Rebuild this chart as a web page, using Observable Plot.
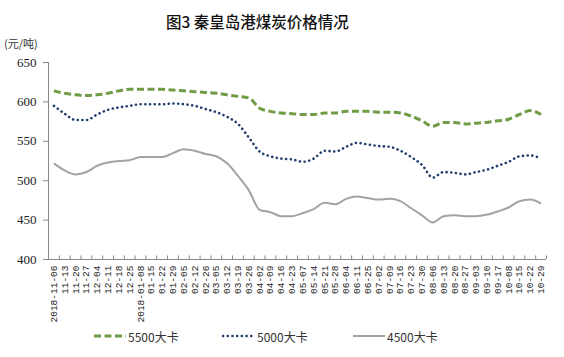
<!DOCTYPE html>
<html><head><meta charset="utf-8">
<script src="https://cdn.jsdelivr.net/npm/d3@7"></script>
<script src="https://cdn.jsdelivr.net/npm/@observablehq/plot@0.6"></script>
<style>
body{margin:0;background:#fff;}
#wrap{position:relative;width:564px;height:357px;font-family:"Noto Sans CJK SC",sans-serif;}
#title{position:absolute;left:166px;top:10px;font-size:15.5px;color:#111;white-space:nowrap;font-weight:500;}
#unit{position:absolute;left:4px;top:35px;font-size:11px;color:#333;}
#legend{position:absolute;top:326px;left:0;width:564px;height:20px;font-size:12px;color:#333;}
.lg{position:absolute;display:flex;align-items:center;white-space:nowrap;}
#chart{position:absolute;left:0;top:0;}
</style></head>
<body><div id="wrap"><div id="chart"></div><div id="title">图3 秦皇岛港煤炭价格情况</div><div id="unit">(元/吨)</div><div id="legend"></div></div>
<script>
const dates = ["2018-11-06","11-13","11-20","11-27","12-04","12-11","12-18","12-25","2018-01-08","01-15","01-22","01-29","02-05","02-12","02-26","03-05","03-12","03-19","03-26","04-02","04-09","04-16","04-23","05-07","05-14","05-21","05-28","06-04","06-11","06-25","07-02","07-09","07-16","07-23","07-30","08-06","08-13","08-20","08-27","09-03","09-10","09-17","10-08","10-15","10-22","10-29"];
const k5500 = [614,611,609,608,609,611,614,616,616,616,616,615,614,613,612,611,609,607,605,592,588,586,585,584,584,586,586,588,588,588,587,587,586,582,576,569,574,574,572,573,574,576,578,584,589,584];
const k5000 = [595,585,577,577,584,590,593,595,597,597,597,598,597,595,591,587,581,572,555,537,531,528,527,524,528,538,537,543,548,546,544,543,538,530,520,504,511,510,508,511,514,519,524,531,532,528];
const k4500 = [522,513,508,511,519,523,525,526,530,530,530,535,540,538,534,531,522,506,488,463,460,455,455,459,464,472,470,477,480,478,476,477,474,465,456,447,455,456,455,455,457,461,466,474,476,471];
const seriesNames = ["5500大卡","5000大卡","4500大卡"];
const yTicks = [400,450,500,550,600,650];
const colors = ["#6f9c45","#233f70","#a3a3a3"];

const data = [];
[k5500,k5000,k4500].forEach((arr,s)=>arr.forEach((v,i)=>data.push({date:dates[i],value:v,series:seriesNames[s]})));

const W=564,H=357,mL=48,mR=18,mT=62,mB=98;
const step=(W-mL-mR)/dates.length;
const styles = [
  {strokeWidth:3,strokeDasharray:"7,3.5"},
  {strokeWidth:2.6,strokeDasharray:"0.1,4.6",strokeLinecap:"round"},
  {strokeWidth:2,strokeDasharray:null}
];
const lineMarks = seriesNames.map((n,s)=>Plot.line(data.filter(d=>d.series===n),{x:"date",y:"value",stroke:colors[s],curve:"monotone-x",...(styles[s].strokeDasharray?{strokeDasharray:styles[s].strokeDasharray}:{}),strokeWidth:styles[s].strokeWidth,strokeLinecap:styles[s].strokeLinecap||"butt"}));

const plot = Plot.plot({
  width:W,height:H,marginLeft:mL,marginRight:mR,marginTop:mT,marginBottom:mB,
  style:{background:"transparent",color:"#222",fontFamily:"serif"},
  x:{type:"point",domain:dates,padding:0.5,axis:null,label:null},
  y:{domain:[400,650],ticks:yTicks,axis:null,label:null},
  marks:[
    Plot.axisY({ticks:yTicks,tickSize:5,tickPadding:7,fontSize:13,stroke:"#888",label:null}),
    Plot.axisX({tickRotate:-90,tickSize:0,tickPadding:6,fontSize:9.5,label:null}),
    Plot.ruleY([400],{stroke:"#888"}),
    Plot.ruleX([dates[0]],{dx:-step/2,y1:400,y2:650,stroke:"#888"}),
    Plot.ruleX(dates,{dx:-step/2,y1:400,y2:404.5,stroke:"#888"}),
    Plot.ruleX([dates[dates.length-1]],{dx:step/2,y1:400,y2:404.5,stroke:"#888"}),
    ...lineMarks
  ]
});
plot.setAttribute("font-family","serif");
plot.querySelectorAll("text").forEach(t=>{t.setAttribute("font-family","Liberation Serif");t.style.fontFamily="'Liberation Serif', serif";});
const xl = plot.querySelector("[aria-label='x-axis tick label']");
if (xl) xl.querySelectorAll("text").forEach(t=>{t.setAttribute("font-family","Liberation Mono");t.style.fontFamily="'Liberation Mono', monospace";});
document.getElementById("chart").appendChild(plot);

const lg = document.getElementById("legend");
const lgPos=[93,222,352];
seriesNames.forEach((n,s)=>{
  const el=document.createElement("div");el.className="lg";el.style.left=lgPos[s]+"px";el.style.top="0px";
  const da = styles[s].strokeDasharray?`stroke-dasharray="${styles[s].strokeDasharray}"`:"";
  el.innerHTML=`<svg width="34" height="20"><line x1="1" y1="10" x2="33" y2="10" stroke="${colors[s]}" stroke-width="${styles[s].strokeWidth}" ${da} stroke-linecap="${styles[s].strokeLinecap||'butt'}"/></svg><span style="margin-left:1px">${n}</span>`;
  lg.appendChild(el);
});
</script></body></html>
